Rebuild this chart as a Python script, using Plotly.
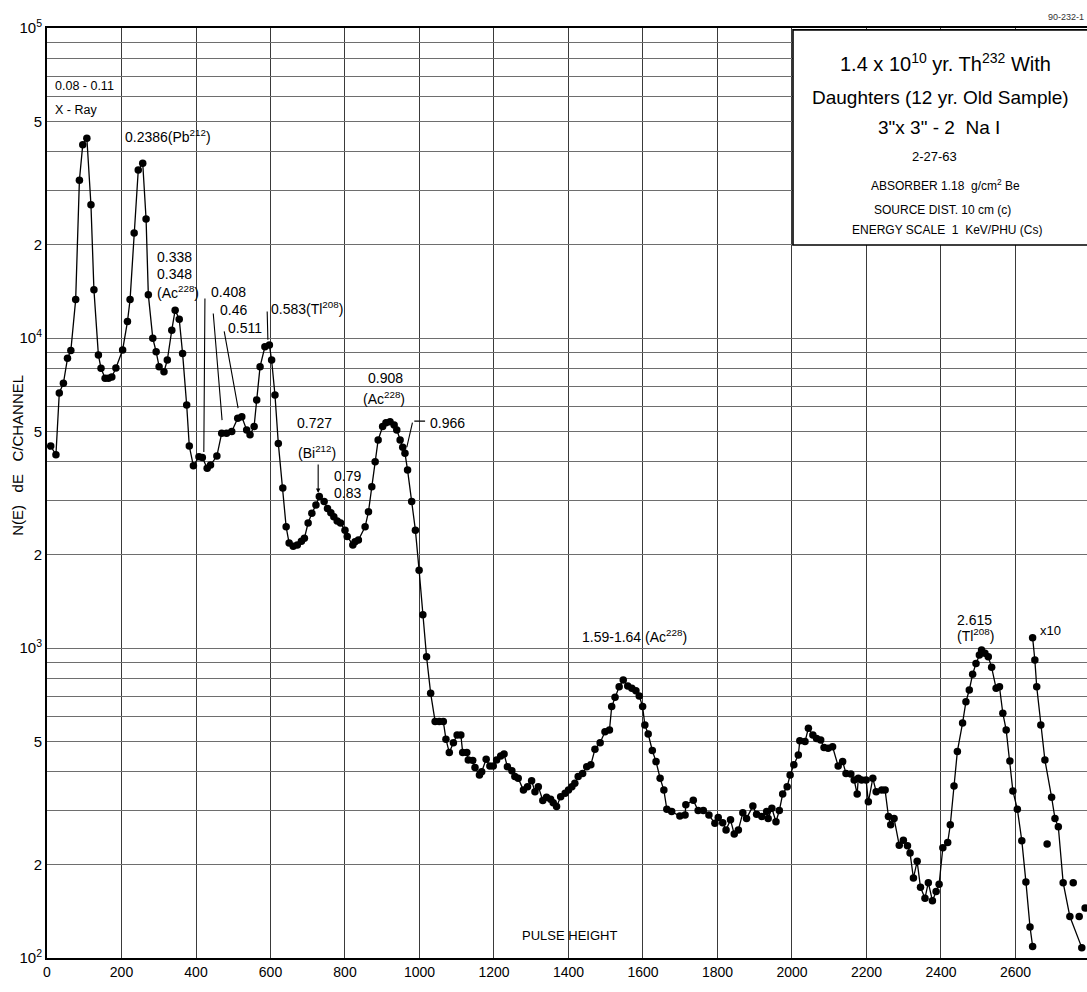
import math
import plotly.graph_objects as go

# ---------------- data ----------------
pulse_height = [10, 24, 33, 44, 55, 64, 77, 87, 96, 107,
                118, 126, 138, 145, 156, 165, 174, 185, 203, 216,
                223, 234, 245, 257, 266, 272, 284, 293, 301, 314,
                323, 335, 344, 355, 364, 375, 382, 393, 408, 417,
                430, 439, 456, 469, 482, 496, 512, 523, 536, 545,
                556, 563, 572, 585, 597, 603, 612, 621, 633, 642,
                650, 661, 672, 683, 691, 701, 711, 722, 731, 744,
                753, 762, 770, 779, 788, 800, 806, 821, 827, 836,
                854, 863, 872, 881, 889, 901, 910, 921, 932, 939,
                948, 955, 961, 968, 979, 989, 999, 1009, 1019, 1030,
                1042, 1053, 1064, 1071, 1080, 1091, 1101, 1111, 1116, 1127,
                1131, 1143, 1149, 1161, 1167, 1179, 1189, 1198, 1207, 1218,
                1227, 1236, 1248, 1256, 1265, 1279, 1290, 1301, 1310, 1319,
                1331, 1341, 1352, 1359, 1368, 1379, 1391, 1400, 1409, 1417,
                1426, 1438, 1449, 1460, 1471, 1485, 1498, 1510, 1516, 1525,
                1536, 1547, 1559, 1570, 1581, 1590, 1599, 1605, 1614, 1625,
                1635, 1646, 1656, 1664, 1677, 1699, 1713, 1715, 1735, 1748,
                1762, 1777, 1793, 1802, 1814, 1823, 1835, 1845, 1856, 1868,
                1878, 1895, 1905, 1919, 1932, 1936, 1946, 1957, 1966, 1975,
                1987, 1995, 2005, 2017, 2021, 2035, 2044, 2056, 2066, 2077,
                2086, 2097, 2109, 2124, 2136, 2145, 2158, 2167, 2175, 2178,
                2187, 2199, 2205, 2217, 2226, 2241, 2250, 2259, 2265, 2274,
                2288, 2299, 2310, 2317, 2326, 2336, 2345, 2357, 2366, 2377,
                2387, 2395, 2405, 2418, 2425, 2435, 2444, 2458, 2467, 2476,
                2485, 2494, 2503, 2509, 2518, 2527, 2536, 2548, 2557, 2566,
                2575, 2585, 2593, 2605, 2617, 2628, 2639, 2646]

counts = [4480, 4200, 6650, 7140, 8600, 9110, 13300, 32300, 42000, 44100,
          26900, 14300, 8810, 7990, 7410, 7420, 7480, 8000, 9150, 11300,
          13300, 21800, 34800, 36600, 24200, 13800, 9980, 9030, 8080, 7780,
          8490, 10600, 12300, 11500, 8920, 6080, 4480, 3870, 4140, 4120,
          3800, 3890, 4160, 4930, 4930, 4990, 5510, 5570, 5050, 4870,
          5180, 6310, 8080, 9370, 9490, 8490, 6550, 4570, 3280, 2460,
          2180, 2130, 2150, 2210, 2260, 2530, 2720, 2890, 3080, 2970,
          2820, 2730, 2650, 2570, 2530, 2400, 2290, 2150, 2200, 2230,
          2460, 2750, 3310, 3990, 4690, 5180, 5330, 5370, 5240, 5050,
          4690, 4440, 4250, 3750, 2970, 2400, 1780, 1280, 937, 714,
          579, 579, 579, 508, 460, 495, 524, 524, 460, 460,
          435, 434, 412, 389, 399, 438, 416, 416, 435, 448,
          455, 414, 402, 385, 380, 348, 357, 373, 344, 357,
          322, 330, 325, 317, 308, 331, 340, 348, 357, 366,
          385, 394, 414, 420, 471, 495, 537, 544, 647, 693,
          750, 788, 754, 741, 728, 700, 647, 564, 528, 467,
          430, 380, 348, 302, 297, 287, 289, 312, 323, 299,
          299, 289, 272, 284, 273, 259, 279, 251, 259, 294,
          282, 309, 291, 286, 297, 282, 304, 275, 299, 338,
          357, 389, 420, 452, 502, 499, 551, 524, 511, 505,
          478, 475, 480, 416, 430, 394, 392, 375, 338, 380,
          375, 375, 319, 380, 344, 348, 348, 286, 269, 282,
          231, 240, 230, 218, 181, 205, 169, 156, 175, 153,
          164, 173, 227, 236, 269, 359, 464, 573, 671, 732,
          823, 892, 949, 985, 961, 937, 866, 741, 750, 616,
          544, 432, 346, 302, 239, 176, 126, 109]

# "x10" portion (counts shown multiplied by ten)
x10_pulse_height = [2646, 2652, 2657, 2668, 2679, 2685, 2697, 2706, 2715, 2728,
                    2746, 2755, 2771, 2778, 2787]
x10_counts = [1080, 915, 750, 564, 435, 233, 330, 282, 265, 175,
              136, 175, 136, 108, 145]
x10_curve_index = [0, 1, 2, 3, 4, 6, 7, 8, 9, 10, 13]

x_tick_values = list(range(0, 2601, 200))
y_grid_values = [m * 10 ** k for k in (2, 3, 4) for m in range(1, 10)] + [100000]
y_tick_labels = {100: "10<sup>2</sup>", 200: "2", 500: "5",
                 1000: "10<sup>3</sup>", 2000: "2", 5000: "5",
                 10000: "10<sup>4</sup>", 20000: "2", 50000: "5",
                 100000: "10<sup>5</sup>"}

# ---------------- figure ----------------
FONT = "Liberation Sans"
fig = go.Figure()

fig.add_trace(go.Scatter(
    x=pulse_height, y=counts, mode="lines+markers",
    line=dict(color="black", width=1.3),
    marker=dict(color="black", size=7.5),
    showlegend=False, hoverinfo="x+y"))

fig.add_trace(go.Scatter(
    x=[x10_pulse_height[i] for i in x10_curve_index],
    y=[x10_counts[i] for i in x10_curve_index],
    mode="lines", line=dict(color="black", width=1.3),
    showlegend=False, hoverinfo="skip"))
fig.add_trace(go.Scatter(
    x=x10_pulse_height, y=x10_counts, mode="markers",
    marker=dict(color="black", size=7.5), showlegend=False))

# peak labels: (text, x, log10(y), xanchor, size)
peak_labels = [
    ("0.08 - 0.11", 16, 4.813, "left", 12.5),
    ("X - Ray", 16, 4.735, "left", 12.5),
    ("0.2386(Pb<sup>212</sup>)", 205, 4.652, "left", 14),
    ("0.338", 290, 4.261, "left", 14),
    ("0.348", 290, 4.206, "left", 14),
    ("(Ac<sup>228</sup>)", 290, 4.149, "left", 14),
    ("0.408", 436, 4.148, "left", 14),
    ("0.46", 458, 4.090, "left", 14),
    ("0.511", 480, 4.032, "left", 14),
    ("0.583(Tl<sup>208</sup>)", 596, 4.097, "left", 14),
    ("0.727", 717, 3.726, "center", 14),
    ("(Bi<sup>212</sup>)", 725, 3.632, "center", 14),
    ("0.79", 806, 3.555, "center", 14),
    ("0.83", 806, 3.500, "center", 14),
    ("0.908", 910, 3.871, "center", 14),
    ("(Ac<sup>228</sup>)", 905, 3.806, "center", 14),
    ("0.966", 1022, 3.726, "left", 14),
    ("1.59-1.64 (Ac<sup>228</sup>)", 1576, 3.039, "center", 14),
    ("2.615", 2489, 3.090, "center", 14),
    ("(Tl<sup>208</sup>)", 2492, 3.042, "center", 14),
    ("x10", 2660, 3.058, "left", 13),
    ("PULSE HEIGHT", 1404, 2.074, "center", 13),
]
annotations = []
for text, x, ly, xa, sz in peak_labels:
    annotations.append(dict(text=text, x=x, y=ly, xref="x", yref="y",
                            xanchor=xa, yanchor="middle", showarrow=False,
                            font=dict(family=FONT, size=sz, color="black")))

# pointer lines: (head x, head log y, tail x, tail log y, arrowhead)
pointers = [
    (421, 3.632, 424, 4.132, 0),
    (470, 3.735, 446, 4.084, 0),
    (513, 3.774, 475, 4.026, 0),
    (593, 3.994, 591, 4.090, 0),
    (728, 3.500, 728, 3.597, 2),
    (966, 3.648, 982, 3.732, 0),
    (1015, 3.732, 982, 3.732, 0),
]
for hx, hy, tx, ty, head in pointers:
    annotations.append(dict(x=hx, y=hy, ax=tx, ay=ty, xref="x", yref="y",
                            axref="x", ayref="y", text="", showarrow=True,
                            arrowhead=head, arrowwidth=1.1, arrowsize=0.8,
                            arrowcolor="black", standoff=0, startstandoff=0))

# title box texts (paper coordinates)
box_lines = [
    ("1.4 x 10<sup>10</sup> yr. Th<sup>232</sup> With", 0.8635, 0.9624, 20),
    ("Daughters (12 yr. Old Sample)", 0.8596, 0.9258, 19),
    ("3\"x 3\" - 2  Na I", 0.8577, 0.8925, 19),
    ("2-27-63", 0.8538, 0.8613, 13),
    ("ABSORBER 1.18  g/cm<sup>2</sup> Be", 0.8635, 0.8312, 12),
    ("SOURCE DIST. 10 cm (c)", 0.8606, 0.8043, 12),
    ("ENERGY SCALE  1  KeV/PHU (Cs)", 0.8663, 0.7828, 12),
]
for text, x, y, sz in box_lines:
    annotations.append(dict(text=text, x=x, y=y, xref="paper", yref="paper",
                            xanchor="center", yanchor="middle", showarrow=False,
                            font=dict(family=FONT, size=sz, color="black")))

annotations.append(dict(text="90-232-1", x=0.999, y=1.012, xref="paper",
                        yref="paper", xanchor="right", yanchor="middle",
                        showarrow=False,
                        font=dict(family=FONT, size=9, color="#333")))
annotations.append(dict(text="N(E)   dE   C/CHANNEL", x=-0.028, y=0.541,
                        xref="paper", yref="paper", textangle=-90,
                        xanchor="center", yanchor="middle", showarrow=False,
                        font=dict(family=FONT, size=15, color="black")))

fig.update_layout(
    width=1087, height=992,
    margin=dict(l=47, r=0, t=28, b=34),
    paper_bgcolor="white", plot_bgcolor="white",
    font=dict(family=FONT, color="black"),
    showlegend=False,
    annotations=annotations,
    shapes=[dict(type="rect", xref="paper", yref="paper",
                 x0=0.7173, x1=1.02, y0=0.7667, y1=0.998,
                 line=dict(color="black", width=1.6),
                 fillcolor="white", layer="above")],
    xaxis=dict(range=[0, 2792], tickvals=x_tick_values,
               ticktext=[str(v) for v in x_tick_values],
               showgrid=True, gridcolor="#3a3a3a", gridwidth=1.2,
               showline=True, linecolor="black", linewidth=2, mirror=True,
               ticks="", zeroline=False,
               tickfont=dict(family=FONT, size=14, color="black")),
    yaxis=dict(type="log", range=[2, 5], tickvals=y_grid_values,
               ticktext=[y_tick_labels.get(v, "") for v in y_grid_values],
               showgrid=True, gridcolor="#6e6e6e", gridwidth=1,
               showline=True, linecolor="black", linewidth=2,
               ticks="", zeroline=False,
               tickfont=dict(family=FONT, size=15, color="black")),
)

fig.write_html("out.html")
